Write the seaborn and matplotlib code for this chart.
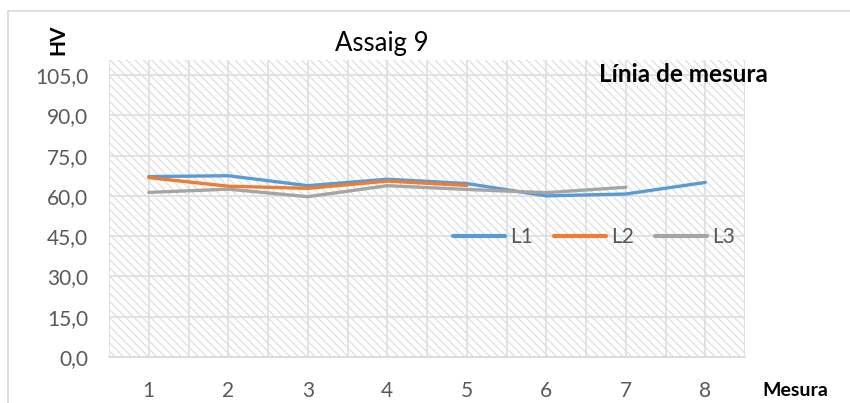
import numpy as np
import pandas as pd
import matplotlib
matplotlib.use("Agg")
import matplotlib.pyplot as plt
from matplotlib.patches import Rectangle
import seaborn as sns

# Measurement data (HV hardness) per measuring line
mesures = [1, 2, 3, 4, 5, 6, 7, 8]
l1 = [67.2, 67.5, 63.8, 66.2, 64.6, 60.0, 60.7, 65.0]
l2 = [66.8, 63.6, 62.8, 65.5, 63.9]
l3 = [61.3, 62.5, 59.7, 63.8, 62.4, 61.2, 63.2]
series_names = ["L1", "L2", "L3"]
y_ticks = [0, 15, 30, 45, 60, 75, 90, 105]
colors = ["#5B9BD5", "#ED7D31", "#A5A5A5"]

sns.set_theme(style="white")
plt.rcParams["font.family"] = ["Lato", "DejaVu Sans"]
plt.rcParams["hatch.linewidth"] = 0.8

rows = []
for name, vals in zip(series_names, [l1, l2, l3]):
    for m, v in zip(mesures, vals):
        rows.append({"Mesura": m, "HV": v, "Línia": name})
df = pd.DataFrame(rows)

fig = plt.figure(figsize=(8.5, 4.03), dpi=100)
fig.patch.set_facecolor("white")

# outer chart frame
fig.add_artist(Rectangle((8 / 850, -0.05), 1.2, 1 - 11 / 403 + 0.05,
                         transform=fig.transFigure, fill=False,
                         edgecolor="#d9d9d9", linewidth=1.2))

ax = fig.add_axes([109 / 850, 46 / 403, 636 / 850, 297 / 403])
ax.set_xlim(0.5, 8.5)
ax.set_ylim(0, 110.6)

# hatched plot background
ax.add_patch(Rectangle((0, 0), 1, 1, transform=ax.transAxes,
                       facecolor="white", edgecolor="#dcdcdc",
                       linewidth=0, hatch="\\\\\\\\", zorder=0.1))

sns.lineplot(data=df, x="Mesura", y="HV", hue="Línia", palette=colors,
             linewidth=2.4, ax=ax, legend=True, zorder=3)

ax.set_axisbelow(True)
ax.set_xticks(mesures)
ax.set_xticks(np.arange(0.5, 9.0, 1.0), minor=True)
ax.set_yticks(y_ticks)
ax.set_yticklabels([f"{v:.1f}".replace(".", ",") for v in y_ticks])
ax.grid(True, which="both", axis="x", color="#dedede", linewidth=1.2, zorder=0.5)
ax.grid(True, which="major", axis="y", color="#dedede", linewidth=1.2, zorder=0.5)
ax.tick_params(axis="both", which="both", length=0, labelsize=15,
               labelcolor="#595959")
ax.tick_params(axis="y", which="major", pad=15)
ax.tick_params(axis="x", which="major", pad=17)
ax.set_xlabel("")
ax.set_ylabel("")
for s in ["top", "right", "left"]:
    ax.spines[s].set_visible(False)
ax.spines["bottom"].set_color("#d9d9d9")
ax.spines["bottom"].set_linewidth(1.2)

leg = ax.legend(loc="center", bbox_to_anchor=(0.762, 0.404), ncol=3,
                frameon=False, fontsize=15, handlelength=2.5,
                handletextpad=0.25, columnspacing=1.0)
for t in leg.get_texts():
    t.set_color("#595959")
for h in leg.legend_handles:
    h.set_linewidth(3)

fig.text(382 / 850, 1 - 43 / 403, "Assaig 9", ha="center", va="center",
         fontsize=18.5, color="black")
fig.text(58 / 850, 1 - 40 / 403, "HV", ha="center", va="center",
         rotation=90, fontsize=15, fontweight="bold", color="black")
fig.text(683 / 850, 1 - 75 / 403, "Línia de mesura", ha="center",
         va="center", fontsize=17.5, fontweight="bold", color="black")
fig.text(795 / 850, 1 - 390 / 403, "Mesura", ha="center", va="center",
         fontsize=14, fontweight="bold", color="black")

fig.savefig("out.png", dpi=100, facecolor="white")
